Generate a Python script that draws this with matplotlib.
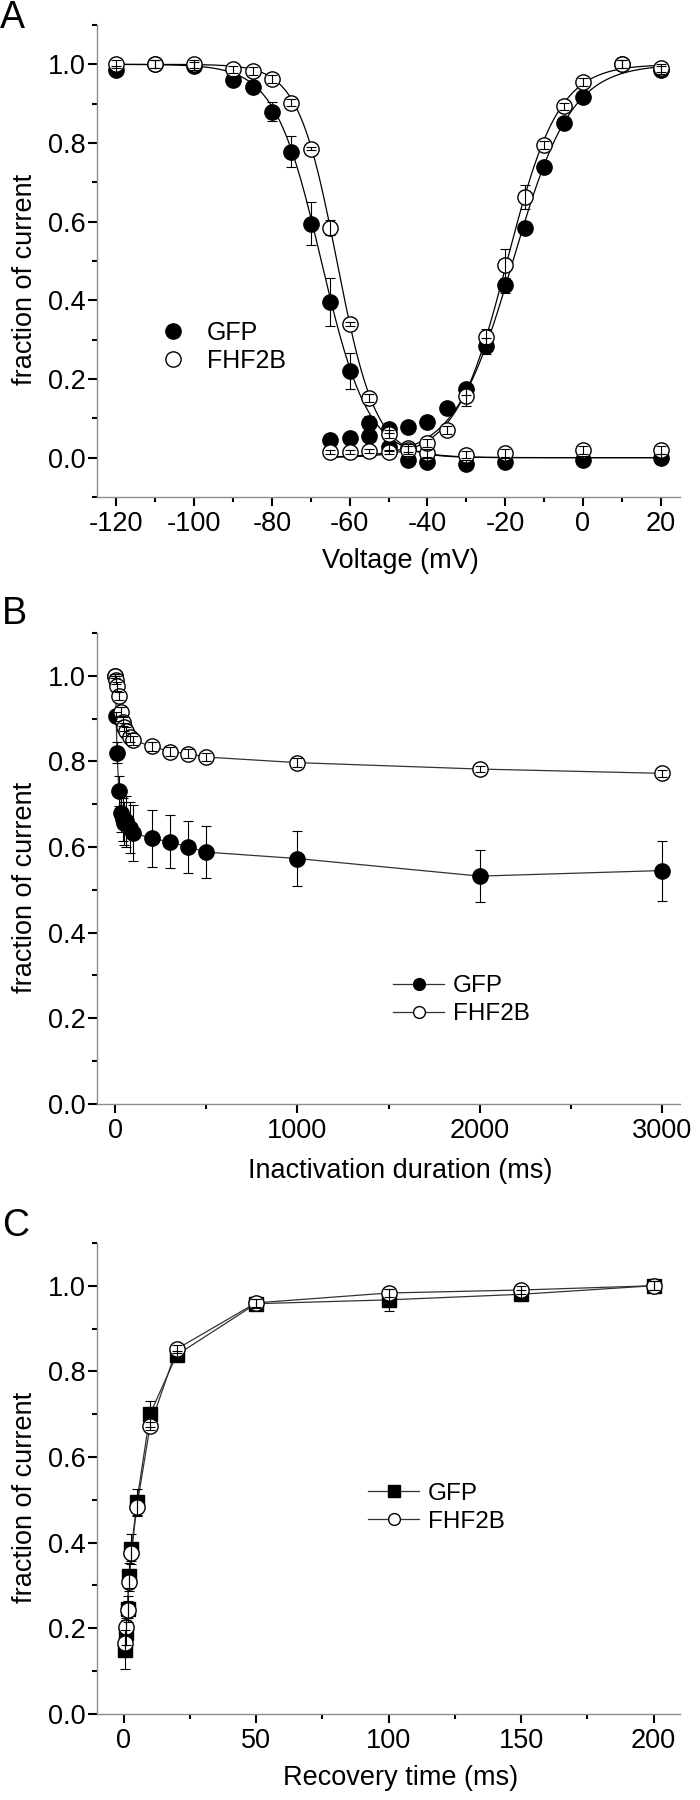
import numpy as np
import matplotlib
matplotlib.use('Agg')
import matplotlib.pyplot as plt
from matplotlib.ticker import MultipleLocator, FormatStrFormatter
from matplotlib.lines import Line2D

plt.rcParams['font.family'] = ['Liberation Sans', 'DejaVu Sans']
plt.rcParams['axes.unicode_minus'] = False

# ---- panel A: steady-state inactivation and activation vs voltage
v_inact = [-120, -110, -100, -90, -85, -80, -75, -70, -65, -60, -55, -50, -45, -40, -30, -20, 0, 20]
gfp_inact = [0.985, 1.0, 0.995, 0.96, 0.943, 0.88, 0.778, 0.595, 0.396, 0.22, 0.087, 0.028, -0.005, -0.012, -0.017, -0.01, -0.005, 0.0]
gfp_inact_err = [0.01, 0.01, 0.01, 0.01, 0.015, 0.025, 0.04, 0.055, 0.06, 0.045, 0.02, 0.01, 0.01, 0.01, 0.01, 0.01, 0.01, 0.01]
fhf_inact = [1.0, 1.0, 1.0, 0.987, 0.982, 0.962, 0.903, 0.786, 0.585, 0.341, 0.152, 0.06, 0.025, 0.012, 0.008, 0.012, 0.02, 0.02]
fhf_inact_err = [0.01, 0.01, 0.01, 0.01, 0.01, 0.01, 0.01, 0.005, 0.02, 0.005, 0.01, 0.01, 0.01, 0.01, 0.01, 0.01, 0.01, 0.01]

v_act = [-65, -60, -55, -50, -45, -40, -35, -30, -25, -20, -15, -10, -5, 0, 10, 20]
gfp_act = [0.045, 0.05, 0.054, 0.072, 0.077, 0.09, 0.125, 0.175, 0.283, 0.438, 0.585, 0.74, 0.85, 0.918, 1.0, 0.985]
gfp_act_err = [0.005, 0.005, 0.01, 0.01, 0.01, 0.015, 0.015, 0.015, 0.02, 0.02, 0.015, 0.01, 0.01, 0.01, 0.01, 0.01]
fhf_act = [0.015, 0.015, 0.018, 0.015, 0.02, 0.038, 0.071, 0.156, 0.308, 0.49, 0.663, 0.795, 0.893, 0.955, 1.0, 0.99]
fhf_act_err = [0.005, 0.005, 0.005, 0.005, 0.01, 0.01, 0.01, 0.025, 0.02, 0.04, 0.03, 0.01, 0.01, 0.01, 0.01, 0.01]

# Boltzmann fit parameters (V1/2, slope)
gfp_inact_fit = (-67.3, 6.0)
fhf_inact_fit = (-63.3, 5.0)
gfp_act_fit = (-18.0, 7.5)
fhf_act_fit = (-19.5, 6.6)

# ---- panel B: development of inactivation
t_inact = [1, 5, 10, 20, 30, 40, 50, 60, 80, 100, 200, 300, 400, 500, 1000, 2000, 3000]
gfp_b = [1.0, 0.905, 0.82, 0.73, 0.68, 0.665, 0.655, 0.66, 0.645, 0.633, 0.62, 0.612, 0.60, 0.588, 0.573, 0.532, 0.545]
gfp_b_err = [0.0, 0.01, 0.025, 0.035, 0.045, 0.05, 0.05, 0.06, 0.06, 0.065, 0.067, 0.062, 0.06, 0.06, 0.065, 0.06, 0.07]
fhf_b = [1.0, 0.99, 0.975, 0.953, 0.916, 0.893, 0.88, 0.87, 0.856, 0.849, 0.835, 0.823, 0.818, 0.81, 0.797, 0.782, 0.772]
fhf_b_err = [0.005, 0.01, 0.01, 0.01, 0.01, 0.01, 0.01, 0.01, 0.01, 0.01, 0.01, 0.01, 0.01, 0.01, 0.01, 0.008, 0.008]

# ---- panel C: recovery from inactivation
t_rec = [0.5, 1, 1.5, 2, 3, 5, 10, 20, 50, 100, 150, 200]
gfp_c = [0.15, 0.19, 0.245, 0.323, 0.385, 0.495, 0.70, 0.838, 0.958, 0.967, 0.98, 1.0]
gfp_c_err = [0.045, 0.03, 0.03, 0.03, 0.035, 0.03, 0.03, 0.01, 0.01, 0.025, 0.01, 0.01]
fhf_c = [0.166, 0.204, 0.243, 0.307, 0.377, 0.483, 0.672, 0.852, 0.96, 0.983, 0.99, 1.0]
fhf_c_err = [0.02, 0.02, 0.02, 0.02, 0.02, 0.02, 0.01, 0.01, 0.01, 0.01, 0.01, 0.01]

FS = 19.5
MS = 11
err_kw = dict(fmt='none', ecolor='black', elinewidth=0.8, capsize=3.5, capthick=0.8, zorder=5)


def boltz_inact(v, p):
    return 1.0 / (1.0 + np.exp((v - p[0]) / p[1]))


def boltz_act(v, p):
    return 1.0 / (1.0 + np.exp((p[0] - v) / p[1]))


def style(ax, xlabel, xlab_y):
    for s in ['top', 'right']:
        ax.spines[s].set_visible(False)
    for s in ['left', 'bottom']:
        ax.spines[s].set_color('#8c8c8c')
        ax.spines[s].set_linewidth(1.0)
    ax.tick_params(which='major', direction='out', length=6.5, width=1.5, color='black',
                   labelsize=FS)
    ax.tick_params(which='minor', direction='out', length=3.8, width=1.5, color='black')
    ax.tick_params(axis='y', which='major', pad=1.5)
    ax.tick_params(axis='x', which='major', pad=3.5)
    ax.yaxis.set_major_locator(MultipleLocator(0.2))
    ax.yaxis.set_minor_locator(MultipleLocator(0.1))
    ax.yaxis.set_major_formatter(FormatStrFormatter('%.1f'))
    ax.set_ylabel('fraction of current', fontsize=FS)
    ax.yaxis.set_label_coords(-0.101, 0.46)
    ax.set_xlabel(xlabel, fontsize=FS)
    ax.xaxis.set_label_coords(0.52, xlab_y)


fig = plt.figure(figsize=(7, 18), dpi=100)
axA = fig.add_axes([0.1386, 0.7239, 0.833, 0.2622])
axB = fig.add_axes([0.1386, 0.3867, 0.833, 0.2617])
axC = fig.add_axes([0.1386, 0.0478, 0.833, 0.2617])

# ---------------- A
vv = np.linspace(-120, 20, 400)
va = np.linspace(-65, 20, 300)
axA.plot(vv, boltz_inact(vv, gfp_inact_fit), color='black', lw=0.9, zorder=2)
axA.plot(vv, boltz_inact(vv, fhf_inact_fit), color='black', lw=0.9, zorder=2)
axA.plot(va, boltz_act(va, gfp_act_fit), color='black', lw=0.9, zorder=2)
axA.plot(va, boltz_act(va, fhf_act_fit), color='black', lw=0.9, zorder=2)

for x, y in [(v_inact, gfp_inact), (v_act, gfp_act)]:
    axA.plot(x, y, 'o', ms=MS, mfc='black', mec='black', zorder=3)
for x, y in [(v_inact, fhf_inact), (v_act, fhf_act)]:
    axA.plot(x, y, 'o', ms=MS, mfc='white', mec='black', mew=1.0, zorder=4)
axA.errorbar(v_inact, gfp_inact, yerr=gfp_inact_err, **err_kw)
axA.errorbar(v_act, gfp_act, yerr=gfp_act_err, **err_kw)
axA.errorbar(v_inact, fhf_inact, yerr=fhf_inact_err, **err_kw)
axA.errorbar(v_act, fhf_act, yerr=fhf_act_err, **err_kw)

axA.set_xlim(-125, 25)
axA.set_ylim(-0.1, 1.1)
axA.xaxis.set_major_locator(MultipleLocator(20))
axA.xaxis.set_minor_locator(MultipleLocator(10))
style(axA, 'Voltage (mV)', -0.108)
hA = [Line2D([], [], ls='none', marker='o', ms=MS, mfc='black', mec='black'),
      Line2D([], [], ls='none', marker='o', ms=MS, mfc='white', mec='black')]
axA.legend(hA, ['GFP', 'FHF2B'], loc='center left', bbox_to_anchor=(0.105, 0.318),
           frameon=False, fontsize=FS - 1.5, handlelength=1.2, handletextpad=0.75,
           borderpad=0, borderaxespad=0, labelspacing=0.15)

# ---------------- B
axB.plot(t_inact, gfp_b, '-', color='#333333', lw=0.9, zorder=2)
axB.plot(t_inact, fhf_b, '-', color='#333333', lw=0.9, zorder=2)
axB.plot(t_inact, gfp_b, 'o', ms=MS, mfc='black', mec='black', zorder=3)
axB.plot(t_inact, fhf_b, 'o', ms=MS, mfc='white', mec='black', mew=1.0, zorder=4)
axB.errorbar(t_inact, gfp_b, yerr=gfp_b_err, **err_kw)
axB.errorbar(t_inact, fhf_b, yerr=fhf_b_err, **err_kw)
axB.set_xlim(-100, 3100)
axB.set_ylim(0, 1.1)
axB.xaxis.set_major_locator(MultipleLocator(1000))
axB.xaxis.set_minor_locator(MultipleLocator(500))
style(axB, 'Inactivation duration (ms)', -0.115)
hB = [Line2D([], [], color='#333333', lw=0.9, marker='o', ms=8.5, mfc='black', mec='black'),
      Line2D([], [], color='#333333', lw=0.9, marker='o', ms=8.5, mfc='white', mec='black')]
axB.legend(hB, ['GFP', 'FHF2B'], loc='center left', bbox_to_anchor=(0.508, 0.22),
           frameon=False, fontsize=FS - 2, handlelength=2.1, handletextpad=0.35,
           borderpad=0, borderaxespad=0, labelspacing=0.25)

# ---------------- C
axC.plot(t_rec, gfp_c, '-', color='#333333', lw=0.9, zorder=2)
axC.plot(t_rec, fhf_c, '-', color='#333333', lw=0.9, zorder=2)
axC.plot(t_rec, gfp_c, 's', ms=MS - 1, mfc='black', mec='black', zorder=3)
axC.plot(t_rec, fhf_c, 'o', ms=MS, mfc='white', mec='black', mew=1.0, zorder=4)
axC.errorbar(t_rec, gfp_c, yerr=gfp_c_err, **err_kw)
axC.errorbar(t_rec, fhf_c, yerr=fhf_c_err, **err_kw)
axC.set_xlim(-10, 210)
axC.set_ylim(0, 1.1)
axC.xaxis.set_major_locator(MultipleLocator(50))
axC.xaxis.set_minor_locator(MultipleLocator(25))
style(axC, 'Recovery time (ms)', -0.108)
hC = [Line2D([], [], color='#333333', lw=0.9, marker='s', ms=8, mfc='black', mec='black'),
      Line2D([], [], color='#333333', lw=0.9, marker='o', ms=8.5, mfc='white', mec='black')]
axC.legend(hC, ['GFP', 'FHF2B'], loc='center left', bbox_to_anchor=(0.465, 0.438),
           frameon=False, fontsize=FS - 2, handlelength=2.1, handletextpad=0.35,
           borderpad=0, borderaxespad=0, labelspacing=0.25)

# panel letters
fig.text(0.0, 1.0, 'A', fontsize=27, va='top', ha='left')
fig.text(0.003, 0.669, 'B', fontsize=27, va='top', ha='left')
fig.text(0.003, 0.329, 'C', fontsize=27, va='top', ha='left')

fig.savefig('out.png', dpi=100)
